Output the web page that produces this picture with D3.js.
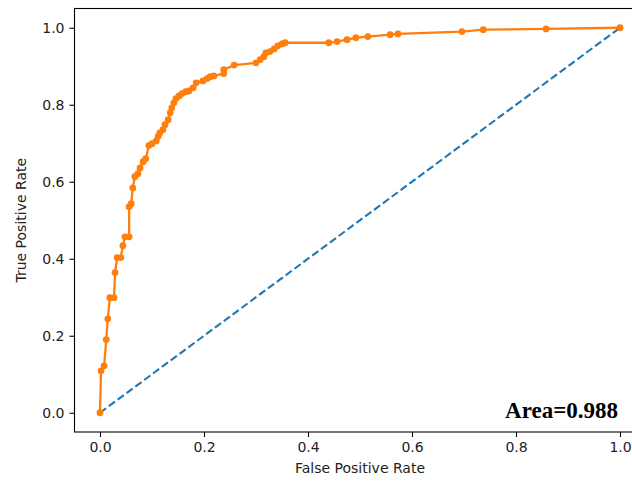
<!DOCTYPE html>
<html>
<head>
<meta charset="utf-8">
<script src="https://cdn.jsdelivr.net/npm/d3@7"></script>
<style>
  html, body { margin: 0; padding: 0; background: #fff; overflow: hidden; }
  svg { display: block; }
</style>
</head>
<body>
<script>
// ROC curve data
const fpr = [0, 0.002, 0.008, 0.012, 0.015, 0.019, 0.027, 0.029, 0.033, 0.040, 0.044, 0.048, 0.056,
  0.056, 0.060, 0.063, 0.067, 0.073, 0.077, 0.083, 0.088, 0.094, 0.100, 0.108, 0.112, 0.115, 0.121,
  0.125, 0.131, 0.135, 0.138, 0.142, 0.146, 0.152, 0.158, 0.165, 0.171, 0.179, 0.185, 0.198, 0.206,
  0.212, 0.219, 0.238, 0.238, 0.258, 0.300, 0.308, 0.315, 0.319, 0.327, 0.335, 0.342, 0.350, 0.356,
  0.440, 0.456, 0.475, 0.492, 0.515, 0.558, 0.573, 0.696, 0.737, 0.858, 1.0];
const tpr = [0, 0.109, 0.122, 0.190, 0.244, 0.299, 0.299, 0.364, 0.403, 0.403, 0.434, 0.457, 0.457,
  0.535, 0.543, 0.584, 0.613, 0.621, 0.636, 0.652, 0.660, 0.694, 0.699, 0.706, 0.718, 0.727, 0.735,
  0.748, 0.761, 0.779, 0.792, 0.805, 0.816, 0.823, 0.829, 0.834, 0.836, 0.844, 0.857, 0.862, 0.868,
  0.873, 0.875, 0.881, 0.891, 0.903, 0.909, 0.917, 0.925, 0.935, 0.938, 0.945, 0.953, 0.958, 0.961,
  0.961, 0.964, 0.969, 0.974, 0.977, 0.982, 0.984, 0.990, 0.995, 0.997, 1.0];
const chanceX = [0, 1];
const chanceY = [0, 1];
const xTicks = [0, 0.2, 0.4, 0.6, 0.8, 1.0];
const yTicks = [0, 0.2, 0.4, 0.6, 0.8, 1.0];
const xLabel = "False Positive Rate";
const yLabel = "True Positive Rate";
const areaText = "Area=0.988";

const W = 632, H = 482;
const svg = d3.select("body").append("svg").attr("width", W).attr("height", H);

const x = d3.scaleLinear().domain([-0.05, 1.05]).range([74, 646]);
const y = d3.scaleLinear().domain([-0.05, 1.05]).range([432, 8.5]);

const g = svg.append("g");

// chance line
g.append("path")
  .datum(chanceX.map((v, i) => [v, chanceY[i]]))
  .attr("d", d3.line().x(d => x(d[0])).y(d => y(d[1])))
  .attr("fill", "none").attr("stroke", "#1f77b4").attr("stroke-width", 2.1)
  .attr("stroke-dasharray", "7.6,3.4");

// ROC line
const pts = fpr.map((v, i) => [v, tpr[i]]);
g.append("path")
  .datum(pts)
  .attr("d", d3.line().x(d => x(d[0])).y(d => y(d[1])))
  .attr("fill", "none").attr("stroke", "#ff7f0e").attr("stroke-width", 2.3)
  .attr("stroke-linejoin", "round");
g.selectAll("circle.pt").data(pts).enter().append("circle")
  .attr("class", "pt")
  .attr("cx", d => x(d[0])).attr("cy", d => y(d[1])).attr("r", 3.4)
  .attr("fill", "#ff7f0e");

// frame
svg.append("rect").attr("x", 74.5).attr("y", 8.5).attr("width", 571).attr("height", 423.5)
  .attr("fill", "none").attr("stroke", "#000").attr("stroke-width", 1.1);

// axes
const font = "'DejaVu Sans', sans-serif";
const xAxis = svg.append("g").attr("transform", "translate(0,432)")
  .call(d3.axisBottom(x).tickValues(xTicks).tickFormat(d3.format(".1f")).tickSize(5).tickPadding(5));
const yAxis = svg.append("g").attr("transform", "translate(74.5,0)")
  .call(d3.axisLeft(y).tickValues(yTicks).tickFormat(d3.format(".1f")).tickSize(5).tickPadding(5));
[xAxis, yAxis].forEach(a => {
  a.select(".domain").remove();
  a.selectAll("line").attr("stroke", "#000").attr("stroke-width", 1.1);
  a.selectAll("text").attr("font-family", font).attr("font-size", 14).attr("fill", "#222");
});

svg.append("text").attr("x", x(0.5)).attr("y", 473).attr("text-anchor", "middle")
  .attr("font-family", font).attr("font-size", 14).attr("fill", "#222").text(xLabel);
svg.append("text").attr("transform", `translate(26,${y(0.5)}) rotate(-90)`).attr("text-anchor", "middle")
  .attr("font-family", font).attr("font-size", 14).attr("fill", "#222").text(yLabel);

svg.append("text").attr("x", 618).attr("y", 418).attr("text-anchor", "end")
  .attr("font-family", "'Liberation Serif', 'Times New Roman', serif").attr("font-weight", "bold")
  .attr("font-size", 23).attr("fill", "#000").text(areaText);
</script>
</body>
</html>
